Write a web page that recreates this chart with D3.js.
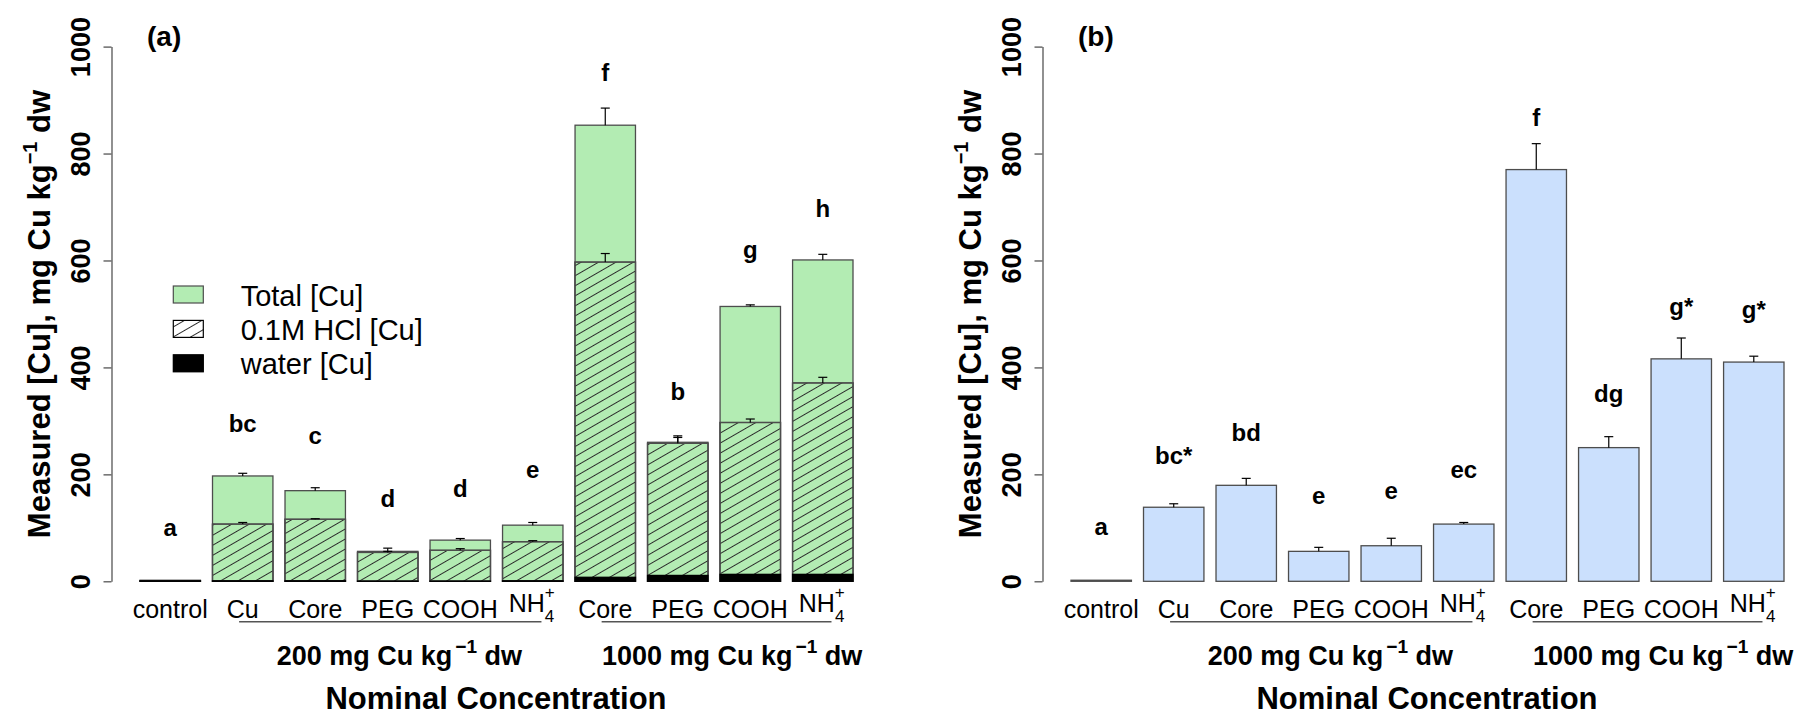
<!DOCTYPE html>
<html>
<head>
<meta charset="utf-8">
<script src="https://cdn.jsdelivr.net/npm/d3@7"></script>
<style>
  body { margin: 0; background: #fff; }
  text { font-family: "Liberation Sans", Arial, sans-serif; }
</style>
</head>
<body>
<script>
// x categories (keys are unique, labels are what is printed)
const keys = ["control", "Cu200", "Core200", "PEG200", "COOH200", "NH4200", "Core1000", "PEG1000", "COOH1000", "NH41000"]
const labels = ["control", "Cu", "Core", "PEG", "COOH", "NH4+", "Core", "PEG", "COOH", "NH4+"]
const groupNames = ["200 mg Cu kg", "1000 mg Cu kg"]
const yTicks = [0, 200, 400, 600, 800, 1000]
const legendItems = ["Total [Cu]", "0.1M HCl [Cu]", "water [Cu]"]

// panel (a): stacked measurements
const totalA = [2, 197, 169.5, 56, 77, 105, 853, 260, 514, 601]
const totalSeA = [0, 5, 5.5, 6, 3, 5, 32, 12, 3, 10.5]
const hclA = [1, 107, 116, 54, 58, 74, 597, 258, 297, 371]
const hclSeA = [0, 3, 1, 2, 3, 2, 16, 11, 6.5, 10.5]
const waterA = [1, 1, 1, 0.5, 0.5, 1, 7.5, 11, 13, 13]
const lettersA = ["a", "bc", "c", "d", "d", "e", "f", "b", "g", "h"]
const letterAtA = [85, 279, 256, 139.5, 158, 193, 936, 340, 604, 682]

// panel (b): total only
const totalB = [2, 138.5, 179.5, 56, 66.5, 107, 770, 250, 416, 410]
const totalSeB = [0, 6.5, 13, 7.5, 14, 3, 48.5, 20.5, 39, 11]
const lettersB = ["a", "bc*", "bd", "e", "e", "ec", "f", "dg", "g*", "g*"]
const letterAtB = [86.6, 219, 262, 144.6, 154, 192.6, 851.5, 336, 498, 492]

const width = 1807, height = 716
const green = "#b3ecb3", blue = "#cbe0fd"
const edge = "#4d4d4d", axisCol = "#555"

const svg = d3.select("body").append("svg")
  .attr("width", width)
  .attr("height", height)

// diagonal hatching for the HCl fraction
svg.append("defs").append("pattern")
  .attr("id", "hatch")
  .attr("patternUnits", "userSpaceOnUse")
  .attr("width", 10).attr("height", 8.7)
  .attr("patternTransform", "rotate(-30)")
  .append("line")
    .attr("x1", 0).attr("x2", 10)
    .attr("y1", 4.35).attr("y2", 4.35)
    .attr("stroke", "#2a2a2a").attr("stroke-width", 1)

// scales shared by both panels
const y = d3.scaleLinear().domain([0, 1000]).range([581.3, 46.6])
const x = d3.scaleBand().domain(keys).range([140, 853]).paddingInner(1 / 6).paddingOuter(0)
const bw = x.bandwidth()
// bar index -> bar centre, used for the group brackets
const xi = d3.scaleLinear().domain([0, keys.length - 1])
  .range([x(keys[0]) + bw / 2, x(keys[keys.length - 1]) + bw / 2])

function errBars(g, vals, se, cls) {
  const d = keys.map((k, i) => ({k: k, v: vals[i], s: se[i]})).filter(d => d.s > 0)
  const eb = g.append("g").attr("class", cls).attr("stroke", "#000").attr("stroke-width", 1.2)
  eb.selectAll("line.v").data(d).enter().append("line").attr("class", "v")
    .attr("x1", d => x(d.k) + bw / 2).attr("x2", d => x(d.k) + bw / 2)
    .attr("y1", d => y(d.v)).attr("y2", d => y(d.v + d.s))
  eb.selectAll("line.c").data(d).enter().append("line").attr("class", "c")
    .attr("x1", d => x(d.k) + bw / 2 - 4.5).attr("x2", d => x(d.k) + bw / 2 + 4.5)
    .attr("y1", d => y(d.v + d.s)).attr("y2", d => y(d.v + d.s))
}

function bars(g, vals, fill, cls) {
  g.append("g").attr("class", cls).selectAll("rect")
    .data(keys.map((k, i) => ({k: k, v: vals[i]})))
    .enter().append("rect")
    .attr("x", d => x(d.k))
    .attr("width", bw)
    .attr("y", d => y(d.v))
    .attr("height", d => y(0) - y(d.v))
    .attr("fill", fill)
    .attr("stroke", fill == "#000" ? "#000" : edge)
    .attr("stroke-width", 1.3)
}

function drawPanel(dx, tag, total, totalSe, letters, letterAt, fill, stacked) {
  const g = svg.append("g").attr("transform", `translate(${dx},0)`)

  // bars
  bars(g, total, fill, "total")
  if (stacked) {
    bars(g, hclA, fill, "hcl")
    bars(g, hclA, "url(#hatch)", "hcl-hatch")
    bars(g, waterA, "#000", "water")
  }
  errBars(g, total, totalSe, "err-total")
  if (stacked) errBars(g, hclA, hclSeA, "err-hcl")

  // significance letters
  g.append("g").selectAll("text")
    .data(keys.map((k, i) => ({k: k, t: letters[i], v: letterAt[i]})))
    .enter().append("text")
    .attr("x", d => x(d.k) + bw / 2)
    .attr("y", d => y(d.v))
    .attr("text-anchor", "middle")
    .style("font-size", "24px").style("font-weight", "bold")
    .text(d => d.t)

  // y axis
  const ax = g.append("g")
    .attr("transform", "translate(111.5,0)")
    .call(d3.axisLeft(y).tickValues(yTicks).tickFormat(d3.format("d")).tickSize(8).tickSizeOuter(0))
  ax.attr("font-family", null).attr("font-size", null)
  ax.select(".domain").attr("stroke", axisCol).attr("stroke-width", 1.3)
  ax.selectAll(".tick line").attr("stroke", axisCol).attr("stroke-width", 1.3)
  ax.selectAll(".tick text")
    .attr("transform", "rotate(-90)")
    .attr("x", 0).attr("y", -21.5).attr("dy", null)
    .attr("text-anchor", "middle")
    .attr("fill", "#000")
    .style("font-size", "27px").style("font-weight", "bold")

  // y title
  const yt = g.append("text")
    .attr("transform", "translate(50,314) rotate(-90)")
    .attr("text-anchor", "middle")
    .style("font-size", "31px").style("font-weight", "bold")
  yt.append("tspan").text("Measured [Cu], mg Cu kg")
  yt.append("tspan").text("\u22121").style("font-size", "20px").attr("dy", -13)
  yt.append("tspan").text(" dw").attr("dy", 13)

  // panel tag
  g.append("text")
    .attr("x", 147).attr("y", 46)
    .style("font-size", "28px").style("font-weight", "bold")
    .text(tag)

  // x tick labels
  const xl = g.append("g").style("font-size", "25px")
  keys.forEach((k, i) => {
    const cx = x(k) + bw / 2
    if (labels[i] == "NH4+") {
      const t = xl.append("text").attr("x", cx - 24).attr("y", 611.7)
      t.append("tspan").text("NH")
      t.append("tspan").text("4").style("font-size", "17px").attr("dy", 10)
      t.append("tspan").text("+").style("font-size", "17px").attr("dx", -9.5).attr("dy", -24)
    } else {
      xl.append("text").attr("x", cx).attr("y", 618.3)
        .attr("text-anchor", "middle").text(labels[i])
    }
  })

  // group brackets and labels
  const spans = [[0.95, 5.12], [5.95, 9.12]]
  const labelAt = [3.16, 7.75]
  spans.forEach((s, i) => {
    g.append("line")
      .attr("x1", xi(s[0])).attr("x2", xi(s[1]))
      .attr("y1", 621.7).attr("y2", 621.7)
      .attr("stroke", axisCol).attr("stroke-width", 1.5)
    const t = g.append("text")
      .attr("x", xi(labelAt[i])).attr("y", 665)
      .attr("text-anchor", "middle")
      .style("font-size", "27px").style("font-weight", "bold")
    t.append("tspan").text(groupNames[i])
    t.append("tspan").text("\u22121").style("font-size", "19px").attr("dx", 3).attr("dy", -12)
    t.append("tspan").text(" dw").attr("dy", 12)
  })

  // x title
  g.append("text")
    .attr("x", 496).attr("y", 709)
    .attr("text-anchor", "middle")
    .style("font-size", "31px").style("font-weight", "bold")
    .text("Nominal Concentration")

  return g
}

const ga = drawPanel(0, "(a)", totalA, totalSeA, lettersA, letterAtA, green, true)
drawPanel(931, "(b)", totalB, totalSeB, lettersB, letterAtB, blue, false)

// legend for panel (a)
const legFills = [green, "url(#hatch)", "#000"]
const legend = ga.append("g").attr("id", "legend")
legend.selectAll("rect.bg")
  .data(legendItems).enter().append("rect").attr("class", "bg")
  .attr("x", 173.3).attr("width", 30)
  .attr("y", (d, i) => 286 + i * 34.4).attr("height", 17)
  .attr("fill", (d, i) => i == 1 ? "#fff" : legFills[i])
legend.selectAll("rect.fg")
  .data(legendItems).enter().append("rect").attr("class", "fg")
  .attr("x", 173.3).attr("width", 30)
  .attr("y", (d, i) => 286 + i * 34.4).attr("height", 17)
  .attr("fill", (d, i) => legFills[i])
  .attr("stroke", (d, i) => i == 0 ? edge : "#000")
  .attr("stroke-width", 1.2)
legend.selectAll("text")
  .data(legendItems).enter().append("text")
  .attr("x", 240.7)
  .attr("y", (d, i) => 305.5 + i * 34.4)
  .style("font-size", "29px")
  .text(d => d)
</script>
</body>
</html>
